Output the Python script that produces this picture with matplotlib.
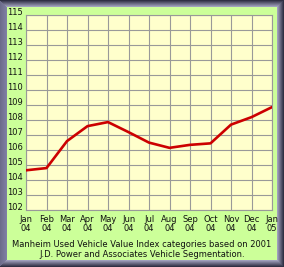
import numpy as np
import matplotlib
matplotlib.use("Agg")
import matplotlib.pyplot as plt

months = ["Jan\n04", "Feb\n04", "Mar\n04", "Apr\n04", "May\n04", "Jun\n04", "Jul\n04",
          "Aug\n04", "Sep\n04", "Oct\n04", "Nov\n04", "Dec\n04", "Jan\n05"]
values = [104.65, 104.8, 106.6, 107.6, 107.87, 107.2, 106.5, 106.15, 106.35, 106.45,
          107.7, 108.2, 108.87]
yticks = list(range(102, 116))
footnote = ("Manheim Used Vehicle Value Index categories based on 2001\n"
            "J.D. Power and Associates Vehicle Segmentation.")

W, H = 284, 267
fig = plt.figure(figsize=(W / 100, H / 100), dpi=100)

# frame background (bevel + green panel)
bg = np.zeros((H, W, 3))
green = np.array([0xCC, 0xFF, 0x99]) / 255
bg[:, :] = green
light = np.array([0xA0, 0xA0, 0xBC]) / 255
dark = np.array([0x30, 0x30, 0x44]) / 255
left_c = np.array([0x80, 0x80, 0xA4]) / 255
b = 7
for i in range(b):
    t = i / (b - 1)
    bg[:, i] = left_c * (0.85 + 0.15 * t)
for i in range(b):
    t = i / (b - 1)
    c = dark * (1 - t) + light * t
    bg[i, i:W - i] = c
for i in range(b):
    t = i / (b - 1)
    c = dark * (1 - t) + light * t
    bg[i:H - i, W - 1 - i] = c
    bg[H - 1 - i, i:W - i] = c
bax = fig.add_axes([0, 0, 1, 1])
bax.imshow(bg, aspect="auto", extent=(0, W, H, 0), interpolation="nearest")
bax.set_axis_off()

x0, x1, ytop, ybot = 26, 272, 15.3, 210
ax = fig.add_axes([x0 / W, (H - ybot) / H, (x1 - x0) / W, (ybot - ytop) / H])
ax.set_facecolor("#FFFFCC")
x = np.arange(len(months))
ax.plot(x, values, color="#CC0000", lw=1.9, solid_joinstyle="round", zorder=3)
ax.set_xlim(0, len(months) - 1)
ax.set_ylim(102, 115)
ax.set_xticks(x)
ax.set_xticklabels(months, fontsize=6, linespacing=0.95, color="#111111")
ax.set_yticks(yticks)
ax.set_yticklabels([str(v) for v in yticks], fontsize=6, color="#111111", va="baseline")
ax.tick_params(length=0, pad=2)
ax.tick_params(axis="x", pad=3.5)
ax.grid(True, color="#999999", lw=0.8)
for s in ax.spines.values():
    s.set_color("#999999")
    s.set_linewidth(0.8)

fig.text(142 / W, 1 - 240 / H, footnote, ha="center", va="top", fontsize=6,
         linespacing=1.2, color="#111111")

fig.savefig("out.png", dpi=100)
